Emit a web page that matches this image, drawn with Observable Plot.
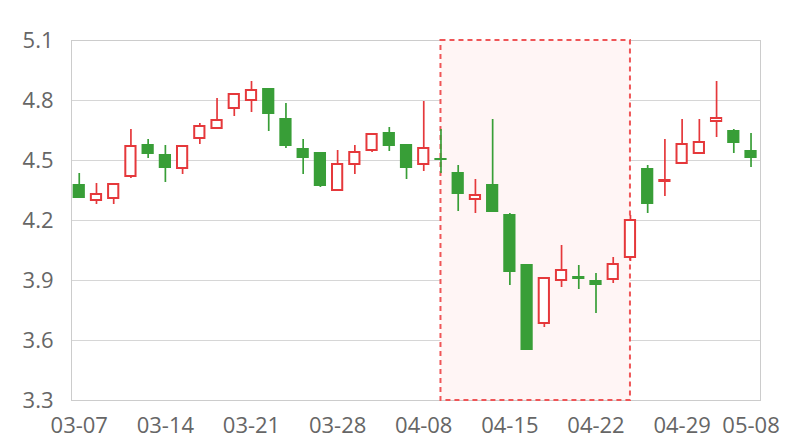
<!DOCTYPE html>
<html>
<head>
<meta charset="utf-8">
<script src="https://cdn.jsdelivr.net/npm/d3@7"></script>
<script src="https://cdn.jsdelivr.net/npm/@observablehq/plot@0.6"></script>
<style>
  html, body { margin: 0; padding: 0; background: #fff; }
  #chart { width: 800px; height: 440px; }
</style>
</head>
<body>
<div id="chart"></div>
<script>
const dates = ["03-07","03-08","03-11","03-12","03-13","03-14","03-15","03-18","03-19","03-20",
               "03-21","03-22","03-25","03-26","03-27","03-28","03-29","04-01","04-02","04-03",
               "04-08","04-09","04-10","04-11","04-12","04-15","04-16","04-17","04-18","04-19",
               "04-22","04-23","04-24","04-25","04-26","04-29","04-30","05-06","05-07","05-08"];
const open  = [4.38,4.30,4.31,4.42,4.58,4.53,4.46,4.61,4.66,4.76,
               4.80,4.86,4.71,4.56,4.54,4.35,4.48,4.55,4.64,4.58,
               4.48,4.51,4.44,4.305,4.38,4.23,3.98,3.685,3.90,3.92,
               3.90,3.905,4.015,4.46,4.395,4.485,4.535,4.695,4.65,4.55];
const close = [4.31,4.33,4.38,4.57,4.53,4.46,4.57,4.67,4.70,4.83,
               4.85,4.73,4.57,4.51,4.37,4.48,4.54,4.63,4.57,4.46,
               4.56,4.50,4.33,4.325,4.24,3.94,3.55,3.91,3.95,3.905,
               3.875,3.98,4.20,4.28,4.40,4.58,4.59,4.71,4.585,4.51];
const high  = [4.435,4.385,4.385,4.655,4.605,4.575,4.575,4.685,4.81,4.835,
               4.895,4.86,4.785,4.605,4.54,4.55,4.575,4.635,4.665,4.58,
               4.795,4.655,4.475,4.405,4.705,4.235,3.98,3.915,4.075,3.975,
               3.935,4.015,4.225,4.475,4.605,4.705,4.705,4.895,4.655,4.635];
const low   = [4.31,4.28,4.28,4.41,4.51,4.39,4.43,4.58,4.66,4.72,
               4.74,4.645,4.56,4.43,4.365,4.345,4.43,4.54,4.545,4.405,
               4.445,4.435,4.245,4.235,4.24,3.875,3.55,3.665,3.865,3.855,
               3.735,3.885,3.995,4.235,4.32,4.485,4.535,4.615,4.535,4.465];

const xTickDates = ["03-07","03-14","03-21","03-28","04-08","04-15","04-22","04-29","05-08"];
const yTicks = [3.3, 3.6, 3.9, 4.2, 4.5, 4.8, 5.1];
const highlightStart = "04-09";
const highlightEnd = "04-24";

const upColor = "#e5383b";
const downColor = "#389e37";

const data = dates.map((d, i) => ({
  i, date: d, open: open[i], close: close[i], high: high[i], low: low[i],
  up: close[i] >= open[i]
}));
const ups = data.filter(d => d.up);
const downs = data.filter(d => !d.up);
const half = 0.355;

const hl = [{
  x1: dates.indexOf(highlightStart),
  x2: dates.indexOf(highlightEnd),
  y1: yTicks[0],
  y2: yTicks[yTicks.length - 1]
}];

const chart = Plot.plot({
  width: 800,
  height: 440,
  marginTop: 40,
  marginBottom: 40,
  marginLeft: 71,
  marginRight: 40,
  style: {fontFamily: "'Open Sans', sans-serif", fontSize: "22px", color: "#666", background: "#fff"},
  x: {
    domain: [-0.45, dates.length - 0.45],
    ticks: xTickDates.map(d => dates.indexOf(d)),
    tickFormat: i => dates[i],
    tickSize: 0,
    tickPadding: 17,
    label: null
  },
  y: {
    domain: [yTicks[0], yTicks[yTicks.length - 1]],
    ticks: yTicks,
    tickFormat: d3.format(".1f"),
    tickSize: 0,
    tickPadding: 18,
    label: null
  },
  marks: [
    Plot.ruleY(yTicks, {stroke: "#d6d6d6", strokeWidth: 1}),
    Plot.frame({stroke: "#cccccc", strokeWidth: 1}),
    Plot.rect(hl, {x1: "x1", x2: "x2", y1: "y1", y2: "y2",
      fill: "#fff5f5", stroke: "#ef5557", strokeWidth: 2, strokeDasharray: "5,4"}),
    Plot.ruleX(data, {x: "i", y1: "low", y2: "high",
      stroke: d => d.up ? upColor : downColor, strokeWidth: 1.7}),
    Plot.rect(downs, {x1: d => d.i - half, x2: d => d.i + half, y1: "open", y2: "close",
      fill: downColor}),
    Plot.rect(ups, {x1: d => d.i - half, x2: d => d.i + half, y1: "open", y2: "close",
      fill: "#fff", stroke: upColor, strokeWidth: 2, insetLeft: 1, insetRight: 1})
  ]
});
document.getElementById("chart").appendChild(chart);
</script>
</body>
</html>
